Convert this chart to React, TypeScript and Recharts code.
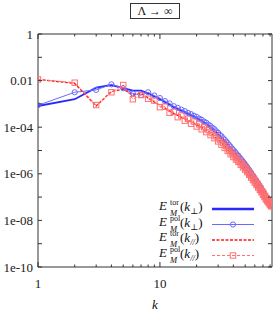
/**
 * Magnetic energy spectra, toroidal / poloidal, perpendicular and parallel.
 */
import { LineChart, Line, XAxis, YAxis, ReferenceArea } from 'recharts'

// wavenumbers
const kValues = [
  1, 2, 3, 4, 5, 6, 7, 8, 9, 10, 11, 12, 13, 14, 15, 16, 17, 18, 19, 20,
  21, 22, 23, 24, 25, 26, 27, 28, 29, 30, 31, 32, 33, 34, 35, 36, 37, 38, 39, 40,
  41, 42, 43, 44, 45, 46, 47, 48, 49, 50, 51, 52, 53, 54, 55, 56, 57, 58, 59, 60,
  61, 62, 63, 64, 65, 66, 67, 68, 69, 70, 71, 72, 73, 74, 75, 76, 77, 78, 79, 80,
  81, 82, 83,
]

// log10 of the spectra
const torPerpLog = [
  -3.09, -2.8, -2.3, -2.19, -2.32, -2.43, -2.43, -2.55, -2.68, -2.8, -2.92, -3.03, -3.14, -3.22, -3.29, -3.36, -3.43, -3.49, -3.55, -3.61,
  -3.67, -3.73, -3.8, -3.86, -3.93, -4.0, -4.07, -4.14, -4.22, -4.29, -4.37, -4.44, -4.52, -4.59, -4.66, -4.74, -4.81, -4.89, -4.96, -5.03,
  -5.09, -5.16, -5.22, -5.28, -5.34, -5.4, -5.46, -5.52, -5.58, -5.64, -5.7, -5.76, -5.82, -5.88, -5.95, -6.01, -6.07, -6.13, -6.18, -6.24,
  -6.3, -6.35, -6.41, -6.46, -6.52, -6.57, -6.63, -6.68, -6.74, -6.79, -6.85, -6.9, -6.96, -7.01, -7.06, -7.1, -7.15, -7.19, -7.23, -7.27,
  -7.3, -7.33, -7.36,
]
const polPerpLog = [
  -3.06, -2.5, -2.4, -2.16, -2.33, -2.55, -2.62, -2.5, -2.64, -2.75, -2.88, -2.98, -3.1, -3.17, -3.25, -3.31, -3.39, -3.44, -3.51, -3.56,
  -3.63, -3.68, -3.76, -3.81, -3.89, -3.95, -4.03, -4.09, -4.18, -4.24, -4.33, -4.39, -4.48, -4.54, -4.62, -4.69, -4.77, -4.84, -4.92, -4.98,
  -5.05, -5.11, -5.18, -5.23, -5.3, -5.36, -5.42, -5.48, -5.54, -5.6, -5.66, -5.72, -5.79, -5.84, -5.91, -5.97, -6.04, -6.09, -6.15, -6.21,
  -6.27, -6.32, -6.38, -6.43, -6.49, -6.54, -6.6, -6.65, -6.71, -6.76, -6.82, -6.87, -6.93, -6.98, -7.03, -7.08, -7.13, -7.17, -7.21, -7.25,
  -7.29, -7.32, -7.35,
]
const torParLog = [
  -1.95, -2.12, -3.09, -2.47, -2.37, -2.62, -2.55, -2.74, -2.92, -3.06, -3.19, -3.3, -3.41, -3.49, -3.57, -3.64, -3.71, -3.77, -3.83, -3.89,
  -3.95, -4.01, -4.07, -4.13, -4.19, -4.26, -4.32, -4.39, -4.46, -4.53, -4.6, -4.67, -4.74, -4.81, -4.88, -4.95, -5.02, -5.09, -5.15, -5.21,
  -5.27, -5.33, -5.38, -5.43, -5.49, -5.55, -5.6, -5.66, -5.71, -5.76, -5.81, -5.87, -5.92, -5.98, -6.04, -6.1, -6.15, -6.21, -6.26, -6.32,
  -6.37, -6.42, -6.48, -6.53, -6.58, -6.64, -6.69, -6.74, -6.8, -6.85, -6.9, -6.95, -7.0, -7.05, -7.09, -7.14, -7.18, -7.22, -7.26, -7.3,
  -7.33, -7.36, -7.39,
]
const polParLog = [
  -1.95, -2.09, -3.05, -2.5, -2.19, -2.8, -2.62, -2.78, -2.86, -3.14, -3.12, -3.38, -3.34, -3.57, -3.5, -3.72, -3.64, -3.85, -3.76, -3.97,
  -3.88, -4.09, -4.0, -4.21, -4.12, -4.34, -4.25, -4.47, -4.39, -4.61, -4.53, -4.75, -4.67, -4.89, -4.81, -5.02, -4.96, -5.16, -5.09, -5.28,
  -5.21, -5.39, -5.33, -5.49, -5.44, -5.61, -5.55, -5.72, -5.66, -5.82, -5.76, -5.93, -5.87, -6.04, -5.99, -6.16, -6.1, -6.27, -6.21, -6.38,
  -6.32, -6.48, -6.43, -6.59, -6.53, -6.69, -6.64, -6.79, -6.75, -6.9, -6.85, -7.0, -6.95, -7.1, -7.05, -7.18, -7.14, -7.26, -7.22, -7.34,
  -7.3, -7.4, -7.37,
]

const xTicks = [1, 2, 3, 4, 5, 6, 7, 8, 9, 10, 20, 30, 40, 50, 60, 70, 80]
const xLabels: Record<number, string> = { 1: '1', 10: '10' }
const yTicks = [1e-10, 1e-9, 1e-8, 1e-7, 1e-6, 1e-5, 1e-4, 1e-3, 1e-2, 1e-1, 1]
const yLabels = ['1e-10', '', '1e-08', '', '1e-06', '', '1e-04', '', '0.01', '', '1']

const data = kValues.map((k, i) => ({
  k,
  torPerp: 10 ** torPerpLog[i],
  polPerp: 10 ** polPerpLog[i],
  torPar: 10 ** torParLog[i],
  polPar: 10 ** polParLog[i],
}))

// plot frame (page px)
const LEFT = 38
const RIGHT = 272
const TOP = 34
const BOTTOM = 267
const FONT = '"Liberation Serif", "DejaVu Serif", serif'

const BLUE = '#2828ff'
const LIGHT_BLUE = '#6a6aff'
const RED = '#ff1a1a'
const PINK = '#ff7070'

function XTick(props: any) {
  const { x, payload } = props
  const major = payload.value === 1 || payload.value === 10
  const len = major ? 5 : 2.5
  return (
    <g>
      <line x1={x} x2={x} y1={BOTTOM} y2={BOTTOM - len} stroke="#333" />
      <line x1={x} x2={x} y1={TOP} y2={TOP + len} stroke="#333" />
      {xLabels[payload.value] && (
        <text x={x} y={288} textAnchor="middle" fontSize={13} fontFamily={FONT} fill="#222">
          {xLabels[payload.value]}
        </text>
      )}
    </g>
  )
}

function YTick(props: any) {
  const { y, payload, index } = props
  const label = yLabels[index] ?? ''
  return (
    <g>
      <line x1={LEFT} x2={LEFT + 4} y1={y} y2={y} stroke="#333" />
      <line x1={RIGHT} x2={RIGHT - 4} y1={y} y2={y} stroke="#333" />
      {label && payload && (
        <text x={33} y={y + 4.5} textAnchor="end" fontSize={13} fontFamily={FONT} fill="#222">
          {label}
        </text>
      )}
    </g>
  )
}

function Circle(props: any) {
  const { cx, cy } = props
  if (cx == null || cy == null) return <g />
  return <circle cx={cx} cy={cy} r={2.6} fill="none" stroke={LIGHT_BLUE} strokeWidth={1} />
}

function Square(props: any) {
  const { cx, cy } = props
  if (cx == null || cy == null) return <g />
  return <rect x={cx - 2.7} y={cy - 2.7} width={5.4} height={5.4} fill="none" stroke={PINK} strokeWidth={1} />
}

const legendRows = [
  { sup: 'tor', sub: '⊥', color: BLUE, width: 2.5, dash: undefined, mark: '' },
  { sup: 'pol', sub: '⊥', color: LIGHT_BLUE, width: 1, dash: undefined, mark: 'circle' },
  { sup: 'tor', sub: '//', color: RED, width: 1.6, dash: '3 1.5', mark: '' },
  { sup: 'pol', sub: '//', color: PINK, width: 1, dash: '3 2', mark: 'square' },
]
const legendY = [209, 224.5, 240, 255.5]

function Overlay() {
  return (
    <svg
      width={276}
      height={311}
      style={{ position: 'absolute', left: 0, top: 0, pointerEvents: 'none' }}
      fontFamily={FONT}
    >
      {/* title box */}
      <rect x={130.5} y={3.5} width={49} height={15} fill="none" stroke="#333" />
      <text x={155} y={15} textAnchor="middle" fontSize={12} fill="#111">
        Λ → ∞
      </text>
      {/* x label */}
      <text x={155} y={309} textAnchor="middle" fontSize={13} fontStyle="italic" fill="#111">
        k
      </text>
      {legendRows.map((r, i) => {
        const y = legendY[i]
        return (
          <g key={i}>
            <text x={159} y={y + 1} fontSize={13} fontStyle="italic" fill="#111">E</text>
            <text x={170} y={y - 4} fontSize={8} fill="#111">{r.sup}</text>
            <text x={170} y={y + 7} fontSize={8.5} fontStyle="italic" fill="#111">M</text>
            <text x={180} y={y + 2} fontSize={13} fill="#111">
              (<tspan fontStyle="italic">k</tspan>
              <tspan fontSize={8.5} dy={3} fontStyle={r.sub === '//' ? 'italic' : 'normal'}>{r.sub}</tspan>
              <tspan dy={-3}>)</tspan>
            </text>
            <line x1={212} x2={254} y1={y} y2={y} stroke={r.color} strokeWidth={r.width} strokeDasharray={r.dash} />
            {r.mark === 'circle' && (
              <circle cx={233} cy={y} r={2.6} fill="none" stroke={LIGHT_BLUE} />
            )}
            {r.mark === 'square' && (
              <rect x={230.3} y={y - 2.7} width={5.4} height={5.4} fill="none" stroke={PINK} />
            )}
          </g>
        )
      })}
    </svg>
  )
}

export default function App() {
  return (
    <div style={{ position: 'absolute', left: 0, top: 0, width: 276, height: 311, background: '#fff' }}>
      <LineChart width={276} height={311} data={data} margin={{ top: TOP, right: 4, bottom: 0, left: 0 }}>
        <XAxis
          dataKey="k"
          type="number"
          scale="log"
          domain={[1, 83]}
          ticks={xTicks}
          interval={0}
          height={44}
          axisLine={false}
          tickLine={false}
          tick={<XTick />}
          allowDataOverflow
        />
        <YAxis
          type="number"
          scale="log"
          domain={[1e-10, 1]}
          ticks={yTicks}
          interval={0}
          width={38}
          axisLine={false}
          tickLine={false}
          tick={<YTick />}
          allowDataOverflow
        />
        <ReferenceArea x1={1} x2={83} y1={1e-10} y2={1} fill="none" stroke="#333" strokeWidth={1} />
        <Line dataKey="torPerp" stroke={BLUE} strokeWidth={1.8} dot={false} isAnimationActive={false} />
        <Line dataKey="polPerp" stroke={LIGHT_BLUE} strokeWidth={1} dot={<Circle />} isAnimationActive={false} />
        <Line dataKey="torPar" stroke={RED} strokeWidth={1.4} strokeDasharray="3 1.5" dot={false} isAnimationActive={false} />
        <Line dataKey="polPar" stroke={PINK} strokeWidth={1} strokeDasharray="3 2" dot={<Square />} isAnimationActive={false} />
      </LineChart>
      <Overlay />
    </div>
  )
}
